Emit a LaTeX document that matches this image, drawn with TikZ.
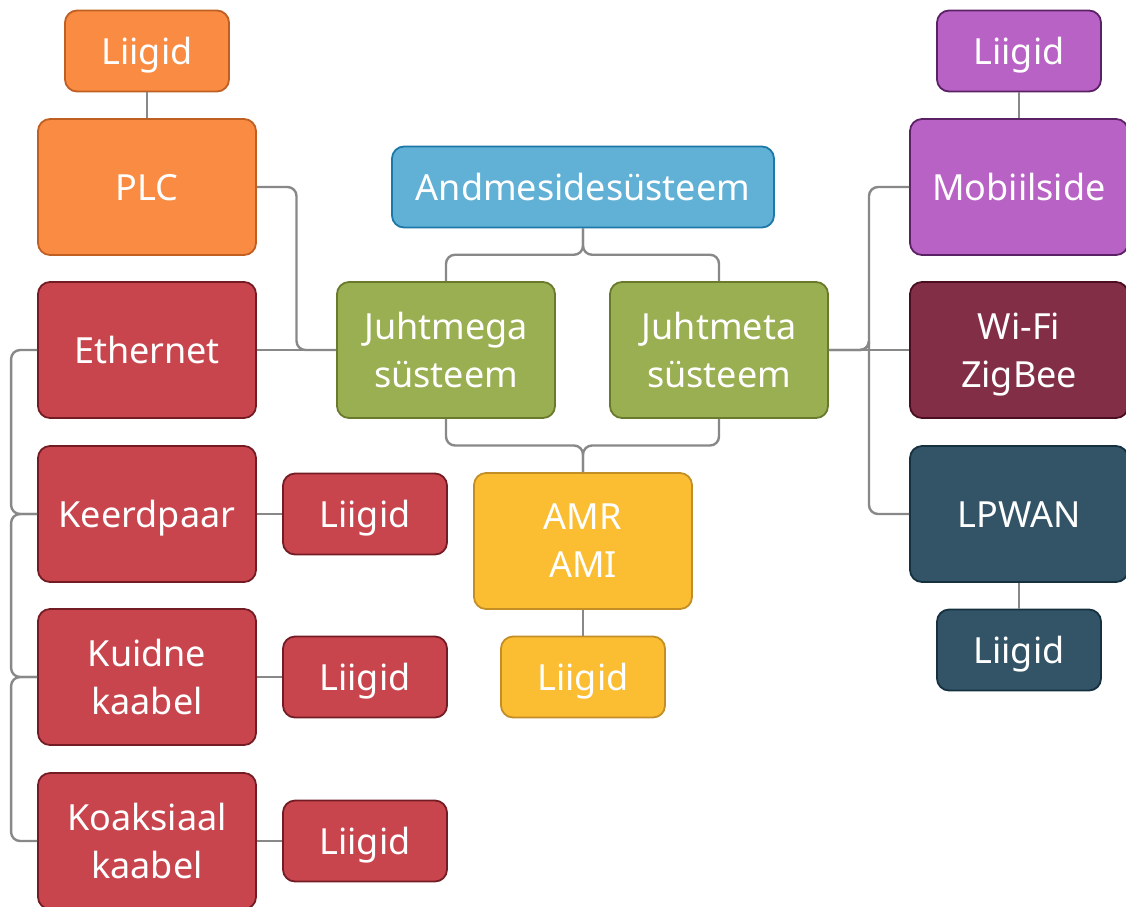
\documentclass[tikz,border=0pt]{standalone}
\usepackage{fontspec}
\setmainfont{Noto Sans}
\usetikzlibrary{calc}

\definecolor{orangefill}{HTML}{F98B43}
\definecolor{orangeline}{HTML}{BF5F22}
\definecolor{bluefill}{HTML}{61B1D6}
\definecolor{blueline}{HTML}{1C78A8}
\definecolor{greenfill}{HTML}{9AAE52}
\definecolor{greenline}{HTML}{6A7A2C}
\definecolor{redfill}{HTML}{C9454E}
\definecolor{redline}{HTML}{741C24}
\definecolor{yellowfill}{HTML}{FBBD32}
\definecolor{yellowline}{HTML}{C48E26}
\definecolor{purplefill}{HTML}{B962C6}
\definecolor{purpleline}{HTML}{5A2264}
\definecolor{maroonfill}{HTML}{832E47}
\definecolor{maroonline}{HTML}{4A0E20}
\definecolor{tealfill}{HTML}{335466}
\definecolor{tealline}{HTML}{15303F}
\definecolor{linkgray}{HTML}{888888}

\tikzset{
  box/.style={rectangle, rounded corners=12pt, line width=1.8pt, text=white,
    align=center, inner sep=0pt, text depth=0pt,
    font=\fontsize{36}{48}\selectfont},
  oneline/.style={text height=26pt},
  bigbox/.style={box, minimum width=218pt, minimum height=136pt},
  smallbox/.style={box, oneline, minimum width=164pt, minimum height=81pt},
  orangebox/.style={fill=orangefill, draw=orangeline},
  bluebox/.style={fill=bluefill, draw=blueline},
  greenbox/.style={fill=greenfill, draw=greenline},
  redbox/.style={fill=redfill, draw=redline},
  yellowbox/.style={fill=yellowfill, draw=yellowline},
  purplebox/.style={fill=purplefill, draw=purpleline},
  maroonbox/.style={fill=maroonfill, draw=maroonline},
  tealbox/.style={fill=tealfill, draw=tealline},
  link/.style={draw=linkgray, line width=2.4pt, rounded corners=9pt}
}

\begin{document}
\begin{tikzpicture}[x=1pt, y=-1pt]
\useasboundingbox (0,0) rectangle (1126,906);

% central column
\node[box, oneline, bluebox, minimum width=382pt, minimum height=81pt] (andm) at (583,187) {Andmesidesüsteem};
\node[bigbox, greenbox] (juhtmega) at (446,350) {Juhtmega\\süsteem};
\node[bigbox, greenbox] (juhtmeta) at (719,350) {Juhtmeta\\süsteem};
\node[bigbox, yellowbox] (amr) at (583,541) {AMR\\AMI};
\node[smallbox, yellowbox] (amrliik) at (583,677) {Liigid};

% wired branch
\node[smallbox, orangebox] (plcliik) at (147,51) {Liigid};
\node[bigbox, oneline, orangebox] (plc) at (147,187) {PLC};
\node[bigbox, oneline, redbox] (ethernet) at (147,350) {Ethernet};
\node[bigbox, oneline, redbox] (keerd) at (147,514) {Keerdpaar};
\node[smallbox, redbox] (keerdliik) at (365,514) {Liigid};
\node[bigbox, redbox] (kuidne) at (147,677) {Kuidne\\kaabel};
\node[smallbox, redbox] (kuidneliik) at (365,677) {Liigid};
\node[bigbox, redbox] (koaks) at (147,841) {Koaksiaal\\kaabel};
\node[smallbox, redbox] (koaksliik) at (365,841) {Liigid};

% wireless branch
\node[smallbox, purplebox] (mobiliik) at (1019,51) {Liigid};
\node[bigbox, oneline, purplebox] (mobi) at (1019,187) {Mobiilside};
\node[bigbox, maroonbox] (wifi) at (1019,350) {Wi-Fi\\ZigBee};
\node[bigbox, oneline, tealbox] (lpwan) at (1019,514) {LPWAN};
\node[smallbox, tealbox] (lpwanliik) at (1019,650) {Liigid};

% junction points
\coordinate (topfork) at ($(andm.south)!.5!(andm.south|-juhtmega.north)$);
\coordinate (lowfork) at ($(amr.north)!.5!(amr.north|-juhtmega.south)$);
\coordinate (lj) at ($(ethernet.east)!.5!(juhtmega.west)$);
\coordinate (rj) at ($(juhtmeta.east)!.5!(wifi.west)$);
\coordinate (lx) at ($(ethernet.west)+(-26,0)$);

% connectors
\draw[link] (andm.south) -- (topfork) -| (juhtmega.north);
\draw[link] (andm.south) -- (topfork) -| (juhtmeta.north);
\draw[link] (amr.north) -- (lowfork) -| (juhtmega.south);
\draw[link] (amr.north) -- (lowfork) -| (juhtmeta.south);
\draw[link] (amr.south) -- (amrliik.north);

\draw[link] (plc.east) -| (lj) -- (juhtmega.west);
\draw[link] (ethernet.east) -- (juhtmega.west);
\draw[link] (plc.north) -- (plcliik.south);
\draw[link] (ethernet.west) -| (lx|-keerd.west) -- (keerd.west);
\draw[link] (keerd.west) -| (lx|-kuidne.west) -- (kuidne.west);
\draw[link] (kuidne.west) -| (lx|-koaks.west) -- (koaks.west);
\draw[link] (keerd.east) -- (keerdliik.west);
\draw[link] (kuidne.east) -- (kuidneliik.west);
\draw[link] (koaks.east) -- (koaksliik.west);

\draw[link] (juhtmeta.east) -- (wifi.west);
\draw[link] (juhtmeta.east) -| (rj) |- (mobi.west);
\draw[link] (juhtmeta.east) -| (rj) |- (lpwan.west);
\draw[link] (mobi.north) -- (mobiliik.south);
\draw[link] (lpwan.south) -- (lpwanliik.north);
\end{tikzpicture}
\end{document}
